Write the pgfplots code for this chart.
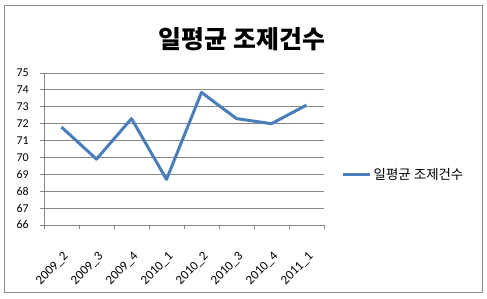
\documentclass[border=0pt]{standalone}
\usepackage{fontspec}
\setmainfont{Carlito}
\newfontfamily\kr{Noto Sans CJK KR}
\usepackage{pgfplots}
\pgfplotsset{compat=1.18}
\definecolor{ser}{HTML}{4A7EBB}
\definecolor{grd}{HTML}{868686}
\definecolor{frm}{HTML}{8C8C8C}
\begin{document}
\begin{tikzpicture}[x=1bp,y=1bp]
\fill[white] (0,0) rectangle (487,298);
\draw[frm, line width=0.8bp] (4.5,6) rectangle (482.5,293);
\node[font=\kr\bfseries\fontsize{25}{29}\selectfont] at (242,259) {일평균 조제건수};
\begin{axis}[
  at={(44bp,73bp)}, anchor=south west, scale only axis,
  width=280bp, height=152bp,
  xmin=0, xmax=8, ymin=66, ymax=75,
  ytick={66,...,75},
  xtick={0.5,1.5,...,7.5},
  xticklabels={2009\_2,2009\_3,2009\_4,2010\_1,2010\_2,2010\_3,2010\_4,2011\_1},
  minor xtick={0,...,8},
  minor ytick={66,...,75},
  major tick length=0pt,
  minor tick length=4bp,
  tick align=outside,
  tick style={grd, line width=0.8bp},
  axis lines*=left,
  axis line style={grd, line width=0.8bp, -},
  ymajorgrids,
  grid style={grd, line width=0.8bp},
  ticklabel style={font=\fontsize{12}{14}\selectfont},
  /pgf/number format/assume math mode=true,
  yticklabel style={anchor=east, inner sep=0pt, xshift=-15bp},
  xticklabel style={font=\fontsize{13}{15}\selectfont, xshift=1bp, yshift=-26bp, rotate=45, anchor=north east, inner sep=0pt},
  legend style={at={(1.052,0.33)}, anchor=west, draw=none, fill=none,
    font=\kr\fontsize{13.5}{15}\selectfont},
  legend image code/.code={\draw[#1] (0bp,0bp) -- (27bp,0bp);},
  clip=false,
]
\addplot[ser, line width=3bp, line join=round] coordinates {
  (0.5,71.8) (1.5,69.9) (2.5,72.3) (3.5,68.7) (4.5,73.85) (5.5,72.3) (6.5,72.0) (7.5,73.1)
};
\addlegendentry{일평균 조제건수}
\end{axis}
\end{tikzpicture}
\end{document}
